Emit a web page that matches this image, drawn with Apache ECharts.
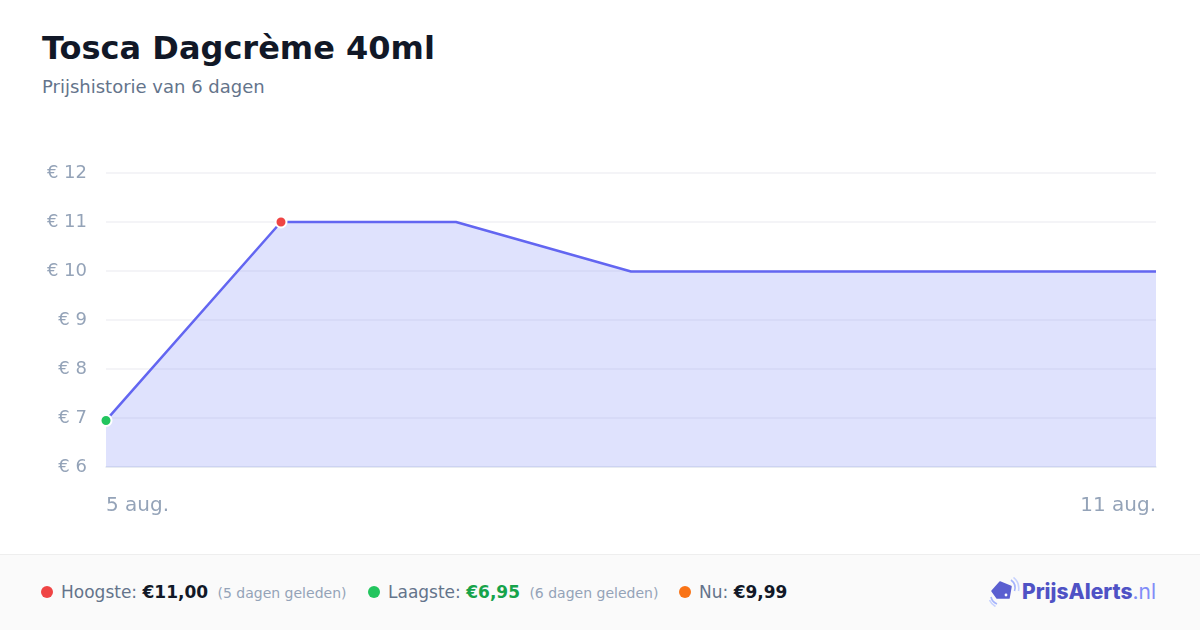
<!DOCTYPE html>
<html>
<head>
<meta charset="utf-8">
<script src="https://cdn.jsdelivr.net/npm/echarts@6/dist/echarts.min.js"></script>
<style>
  html, body { margin: 0; padding: 0; background: #fff; }
  body { width: 1200px; height: 630px; position: relative; overflow: hidden; font-family: "DejaVu Sans", sans-serif; }
  #title { position: absolute; left: 42px; top: 29px; font-size: 32px; font-weight: bold; color: #111827; }
  #subtitle { position: absolute; left: 42px; top: 76px; font-size: 18px; color: #64748b; }
  #chart { position: absolute; left: 0; top: 0; width: 1200px; height: 550px; }
  #footer { position: absolute; left: 0; top: 554px; width: 1200px; height: 76px; background: #fafafa; border-top: 1px solid #eeeeee; }
  .item { position: absolute; top: 27px; font-size: 17px; color: #64748b; white-space: nowrap; }
  .dot { display: inline-block; width: 12px; height: 12px; border-radius: 50%; margin-right: 8px; vertical-align: 0px; }
  .val { font-weight: bold; color: #111827; }
  .ago { font-size: 14px; color: #94a3b8; margin-left: 4px; }
  #logo { position: absolute; left: 989px; top: 22px; font-family: Inter, "DejaVu Sans", sans-serif; font-size: 21px; white-space: nowrap; }
  #logo svg { vertical-align: -8px; margin-right: 2px; }
  #logo b { color: #4f52c5; font-weight: 800; }
  #logo span { color: #818cf8; }
</style>
</head>
<body>
<div id="title">Tosca Dagcrème 40ml</div>
<div id="subtitle">Prijshistorie van 6 dagen</div>
<div id="chart"></div>
<div id="footer">
  <div class="item" style="left:41px"><span class="dot" style="background:#ef4444"></span>Hoogste: <span class="val">€11,00</span> <span class="ago">(5 dagen geleden)</span></div>
  <div class="item" style="left:368px"><span class="dot" style="background:#22c55e"></span>Laagste: <span class="val" style="color:#16a34a">€6,95</span> <span class="ago">(6 dagen geleden)</span></div>
  <div class="item" style="left:679px"><span class="dot" style="background:#f97316"></span>Nu: <span class="val">€9,99</span></div>
  <div id="logo"><svg width="31" height="30" viewBox="0 0 31 30">
    <path d="M3 14 L11 5 L22 9.5 L20 21 L8 21 Z" fill="#5b5fd0" stroke="#5b5fd0" stroke-width="1.5" stroke-linejoin="round"/>
    <circle cx="17" cy="18" r="1.4" fill="#fff"/>
    <path d="M22 3 A10 10 0 0 1 25.5 14" stroke="#a5b4fc" stroke-width="1.6" fill="none"/>
    <path d="M24.5 0.5 A14 14 0 0 1 29.5 14" stroke="#c7d2fe" stroke-width="1.6" fill="none"/>
    <path d="M2 20 A10 10 0 0 0 8 27" stroke="#a5b4fc" stroke-width="1.6" fill="none"/>
    <path d="M0.5 23 A13 13 0 0 0 6.5 29.5" stroke="#c7d2fe" stroke-width="1.6" fill="none"/>
  </svg><b>PrijsAlerts</b><span>.nl</span></div>
</div>
<script>
const dates = ['5 aug.', '6 aug.', '7 aug.', '8 aug.', '9 aug.', '10 aug.', '11 aug.'];
const prices = [6.95, 11.00, 11.00, 9.99, 9.99, 9.99, 9.99];
const yTicks = [6, 7, 8, 9, 10, 11, 12];

const maxIdx = prices.indexOf(Math.max(...prices));
const minIdx = prices.indexOf(Math.min(...prices));

const chart = echarts.init(document.getElementById('chart'), null, { renderer: 'canvas' });
chart.setOption({
  animation: false,
  grid: { left: 106, right: 44, top: 173, bottom: 83 },
  xAxis: {
    type: 'category',
    data: dates,
    boundaryGap: false,
    axisLine: { show: true, lineStyle: { color: '#e2e8f0', width: 1.5 } },
    axisTick: { show: false },
    axisLabel: {
      color: '#94a3b8',
      fontSize: 20,
      fontFamily: 'DejaVu Sans',
      margin: 29,
      interval: (i) => i === 0 || i === dates.length - 1,
      alignMinLabel: 'left',
      alignMaxLabel: 'right'
    }
  },
  yAxis: {
    type: 'value',
    min: yTicks[0],
    max: yTicks[yTicks.length - 1],
    interval: 1,
    axisLine: { show: false },
    axisTick: { show: false },
    splitLine: { lineStyle: { color: '#f1f1f4', width: 1.5 } },
    axisLabel: {
      color: '#94a3b8',
      fontSize: 18,
      fontFamily: 'DejaVu Sans',
      margin: 19,
      padding: [4, 0, 0, 0],
      formatter: (v) => '€ ' + v
    }
  },
  series: [{
    type: 'line',
    symbol: 'none',
    showSymbol: true,
    lineStyle: { color: '#6366f1', width: 2.5 },
    areaStyle: { color: 'rgba(129,140,248,0.25)', opacity: 1, origin: 'start' },
    data: prices.map((p, i) => {
      if (i === maxIdx) return { value: p, symbol: 'circle', symbolSize: 11, itemStyle: { color: '#ef4444', borderColor: '#fff', borderWidth: 2 } };
      if (i === minIdx) return { value: p, symbol: 'circle', symbolSize: 11, itemStyle: { color: '#22c55e', borderColor: '#fff', borderWidth: 2 } };
      return p;
    }),
    z: 3
  }]
});
</script>
</body>
</html>
